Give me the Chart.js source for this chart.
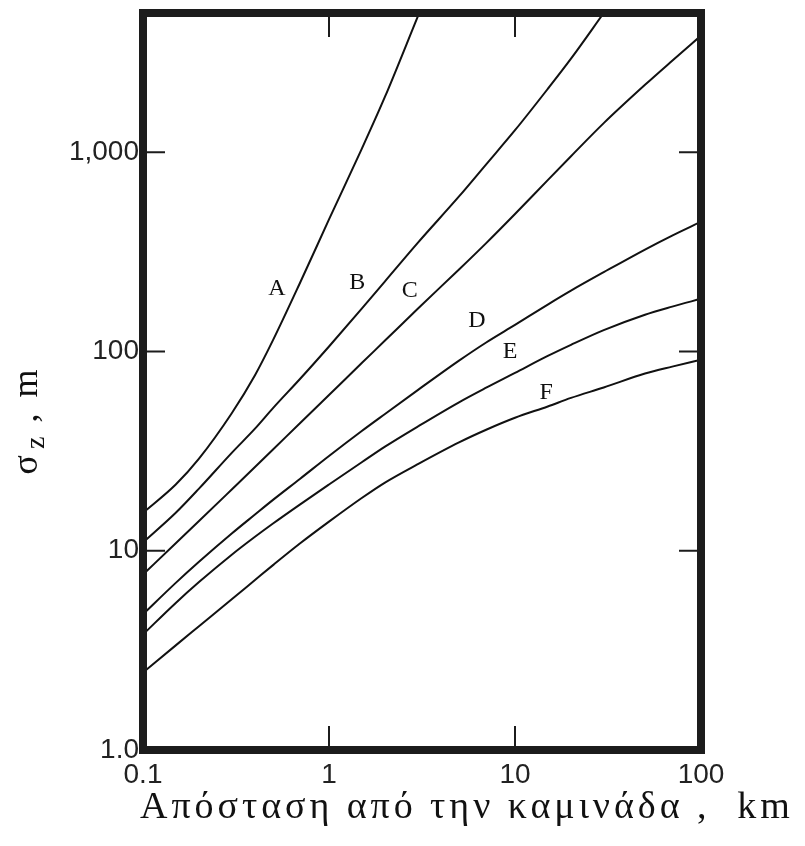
<!DOCTYPE html>
<html><head><meta charset="utf-8">
<script src="https://cdn.jsdelivr.net/npm/chart.js@4.4.1/dist/chart.umd.min.js"></script>
<style>html,body{margin:0;padding:0;background:#fff}#wrap{width:805px;height:846px;position:relative}</style>
</head><body><div id="wrap"><canvas id="c"></canvas></div>
<script>
// Downwind distance (km)
const distances = [0.1,0.15,0.2,0.3,0.4,0.5,0.7,1,1.5,2,3,5,7,10,15,20,30,50,70,100];
// sigma_z (m) per stability class
const sigmaA = [15.5,21.5,29,49,76,114,222,460,1040,1900,4800,null,null,null,null,null,null,null,null,null];
const sigmaB = [11,15.5,20.5,31,41,52,73,106,164,225,351,600,870,1290,2080,2950,5000,null,null,null];
const sigmaC = [7.6,10.9,14.1,20.3,26.3,32.2,43.8,60.5,87.5,113.5,164,258,350,490,725,955,1400,2180,2880,3850];
const sigmaD = [4.8,6.9,8.8,12.2,15.2,18,23,29.9,39.9,48.6,64,90,111,136,172,202,250,325,382,448];
const sigmaE = [3.8,5.47,6.96,9.55,11.75,13.7,17.1,21.5,27.8,33.3,42,55.6,65.8,78.1,95,108,128,153,168,184];
const sigmaF = [2.45,3.35,4.18,5.71,7.13,8.47,10.9,14,18.4,22,27.2,35,40.5,46.5,53,58.5,66,77.5,84,91];
const stabilityClasses = ['A','B','C','D','E','F'];
const labelDistance = [0.525,1.42,2.72,6.25,9.4,14.7];
const labelSigma = [207,222,203,143,100,62];
const xTickValues = [0.1,1,10,100];
const xTickLabels = ['0.1','1','10','100'];
const yTickValues = [1,10,100,1000];
const yTickLabels = ['1.0','10','100','1,000'];
const xTitle = 'Απόσταση από την καμινάδα ,  km';

const allSeries = [sigmaA,sigmaB,sigmaC,sigmaD,sigmaE,sigmaF];
const datasets = allSeries.map((s,i)=>({
  label: stabilityClasses[i],
  data: distances.map((d,j)=>({x:d,y:s[j]})).filter(p=>p.y!==null),
  borderColor:'#111', borderWidth:2, pointRadius:0, fill:false,
  cubicInterpolationMode:'monotone'
}));

const framePlugin = {
  id:'frame',
  afterDatasetsDraw(chart){
    const {ctx, chartArea:a, scales:{x,y}} = chart;
    ctx.save();
    ctx.strokeStyle='#1c1c1c';
    ctx.lineWidth=2;
    ctx.beginPath();
    [10,100,1000].forEach(v=>{
      const py=y.getPixelForValue(v);
      ctx.moveTo(a.left+4,py); ctx.lineTo(a.left+22,py);
      ctx.moveTo(a.right-4,py); ctx.lineTo(a.right-22,py);
    });
    [1,10].forEach(v=>{
      const px=x.getPixelForValue(v);
      ctx.moveTo(px,a.bottom-4); ctx.lineTo(px,a.bottom-24);
      ctx.moveTo(px,a.top+4); ctx.lineTo(px,a.top+24);
    });
    ctx.stroke();
    ctx.lineWidth=8;
    ctx.strokeRect(a.left,a.top,a.right-a.left,a.bottom-a.top);
    // curve labels
    ctx.fillStyle='#111';
    ctx.font='24px "Liberation Serif"';
    ctx.textAlign='center'; ctx.textBaseline='middle';
    stabilityClasses.forEach((c,i)=>{
      ctx.fillText(c, x.getPixelForValue(labelDistance[i]), y.getPixelForValue(labelSigma[i]));
    });
    // y title
    ctx.save();
    ctx.translate(28,422);
    ctx.rotate(-Math.PI/2);
    ctx.textAlign='left'; ctx.textBaseline='middle';
    const big='36px "Liberation Serif"', small='28px "Liberation Serif"';
    const gap=6;
    ctx.font=big; const w1=ctx.measureText('σ').width;
    ctx.font=small; const w2=ctx.measureText('z').width;
    ctx.font=big; const wc=ctx.measureText(',').width; const wm=ctx.measureText('m').width;
    const total=w1+w2+wc+wm+gap*2+14+10;
    let sx=-total/2;
    ctx.font=big; ctx.fillText('σ',sx,0); sx+=w1+gap;
    ctx.font=small; ctx.fillText('z',sx,9); sx+=w2+14;
    ctx.font=big; ctx.fillText(',',sx,0); sx+=wc+10+gap;
    ctx.fillText('m',sx,0);
    ctx.restore();
    // x title
    ctx.font='38px "Liberation Serif"';
    ctx.textAlign='left'; ctx.textBaseline='middle';
    const tw=ctx.measureText(xTitle).width;
    const target=650;
    if('letterSpacing' in ctx && tw<target){
      ctx.letterSpacing=((target-tw)/(xTitle.length-1)).toFixed(2)+'px';
    }
    ctx.fillText(xTitle,140,808);
    ctx.restore();
  }
};

new Chart(document.getElementById('c'),{
  type:'line',
  data:{datasets},
  options:{
    responsive:true, maintainAspectRatio:false, animation:false,
    layout:{padding:{top:13,right:104,left:0,bottom:0}},
    plugins:{legend:{display:false},tooltip:{enabled:false}},
    scales:{
      x:{type:'logarithmic',min:0.1,max:100,
        afterBuildTicks:s=>{s.ticks=xTickValues.map(v=>({value:v}));},
        afterFit:s=>{s.height=96;s.paddingLeft=0;s.paddingRight=0;},
        ticks:{callback:(v)=>{const i=xTickValues.indexOf(v);return i>=0?xTickLabels[i]:'';},
          font:{family:'"Liberation Sans"',size:28},color:'#222',padding:8,maxRotation:0,autoSkip:false},
        grid:{display:false,drawTicks:false},border:{display:false}},
      y:{type:'logarithmic',min:1,max:5000,
        afterBuildTicks:s=>{s.ticks=yTickValues.map(v=>({value:v}));},
        afterFit:s=>{s.width=143;s.paddingTop=0;s.paddingBottom=0;},
        ticks:{callback:(v)=>{const i=yTickValues.indexOf(v);return i>=0?yTickLabels[i]:'';},
          font:{family:'"Liberation Sans"',size:28},color:'#222',padding:4,autoSkip:false},
        grid:{display:false,drawTicks:false},border:{display:false}}
    }
  },
  plugins:[framePlugin]
});
</script></body></html>
